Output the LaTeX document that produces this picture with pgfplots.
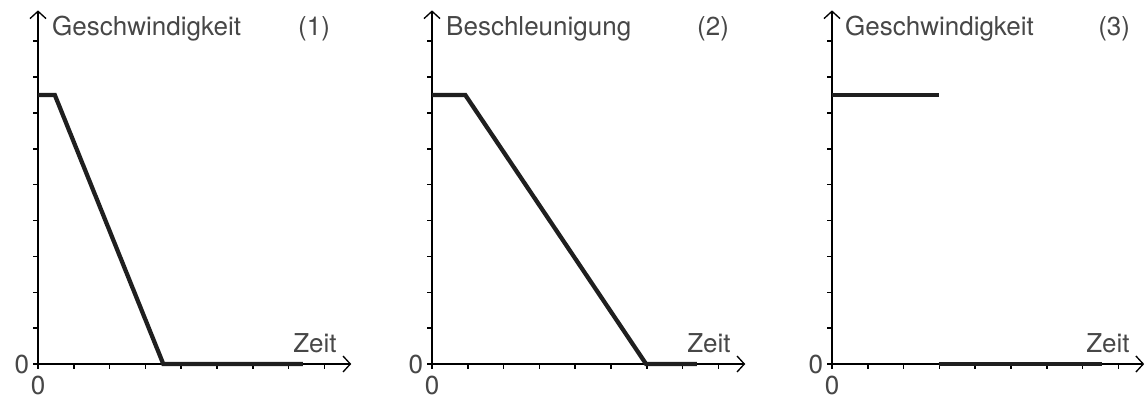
\documentclass[border=0pt]{standalone}
\usepackage{fontspec}
\setmainfont{TeX Gyre Heros}
\usepackage{pgfplots}
\pgfplotsset{compat=1.18}
\usetikzlibrary{arrows.meta}

\newcommand{\lbl}{\fontsize{19.5}{23}\selectfont}
\pgfplotsset{
  panel/.style={
    x=26.85pt, y=26.9pt,
    axis x line=bottom, axis y line=left,
    axis line style={line width=1.1pt, black,
      -{Straight Barb[length=5.5pt,width=12pt,line width=1pt]}},
    xmin=0, xmax=8.75, ymin=0, ymax=9.86,
    enlargelimits=false,
    xtick={0,...,8}, ytick={0,...,9},
    xticklabels={\mbox{\lbl 0}}, yticklabels={\mbox{\lbl 0}},
    tick align=outside, major tick length=3.5pt,
    tick style={line width=1.1pt, black},
    tick label style={text=black!72, inner sep=2pt},
    xticklabel style={yshift=-3pt},
    yticklabel style={xshift=-1pt},
    clip=false,
  },
  curve/.style={line width=3.2pt, black!88},
}
\tikzset{txt/.style={font=\lbl, text=black!72, inner sep=0pt}}

\begin{document}
\begin{tikzpicture}
% page frame of the reference (origin = corner of panel 1)
\useasboundingbox (-28.5pt,-27pt) rectangle (830.25pt,273pt);
% (1) Geschwindigkeit
\begin{axis}[panel, at={(0pt,0pt)}]
\addplot[curve] coordinates {(0,7.5) (0.47,7.5) (3.5,0) (7.4,0)};
\node[txt, anchor=base west] at (axis cs:0.39,9.16) {Geschwindigkeit};
\node[txt, anchor=base west] at (axis cs:7.26,9.16) {(1)};
\node[txt, anchor=base east] at (axis cs:8.35,0.33) {Zeit};
\end{axis}
% (2) Beschleunigung
\begin{axis}[panel, at={(295.5pt,0pt)}]
\addplot[curve] coordinates {(0,7.5) (0.93,7.5) (5.98,0) (7.4,0)};
\node[txt, anchor=base west] at (axis cs:0.39,9.16) {Beschleunigung};
\node[txt, anchor=base west] at (axis cs:7.4,9.16) {(2)};
\node[txt, anchor=base east] at (axis cs:8.35,0.33) {Zeit};
\end{axis}
% (3) Geschwindigkeit
\begin{axis}[panel, at={(595.5pt,0pt)}, xmax=8.72]
\addplot[curve] coordinates {(0,7.5) (2.98,7.5)};
\addplot[curve] coordinates {(2.98,0) (7.55,0)};
\node[txt, anchor=base west] at (axis cs:0.36,9.16) {Geschwindigkeit};
\node[txt, anchor=base west] at (axis cs:7.43,9.16) {(3)};
\node[txt, anchor=base east] at (axis cs:8.32,0.33) {Zeit};
\end{axis}
\end{tikzpicture}
\end{document}
